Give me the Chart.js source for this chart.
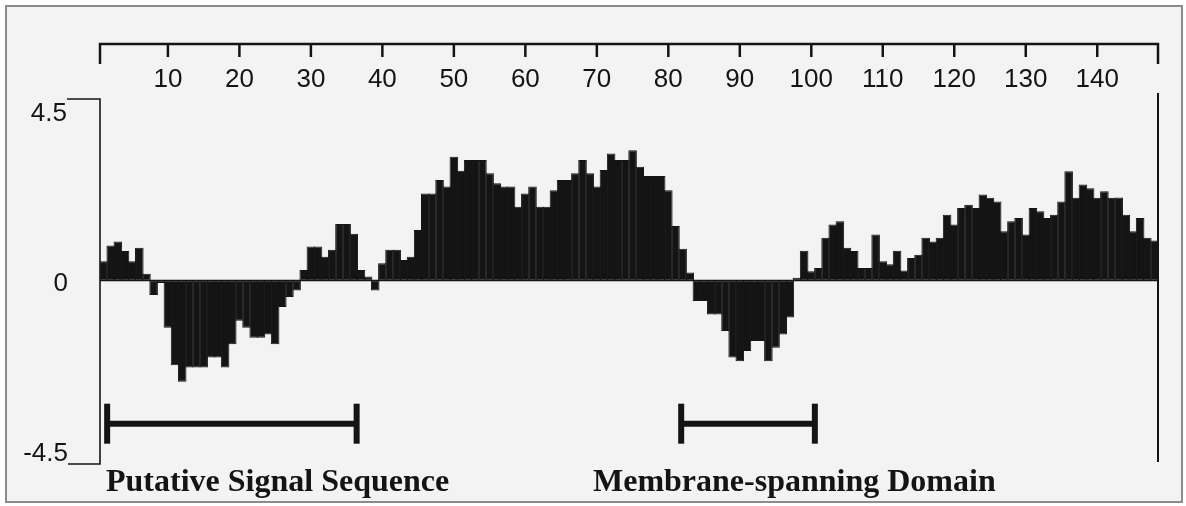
<!DOCTYPE html>
<html lang="en">
<head>
<meta charset="UTF-8" />
<title>Hydropathy plot</title>
<script src="https://cdn.jsdelivr.net/npm/chart.js"></script>
<style>
  html, body { margin: 0; padding: 0; background: #fff; overflow: hidden; }
  .frame {
    position: absolute; left: 5px; top: 5px;
    width: 1174px; height: 494px;
    border: 2px solid #8c8c8c;
    background: #f3f3f3;
  }
  canvas { position: absolute; left: 0; top: 0; }
</style>
</head>
<body>
<div class="frame"></div>
<canvas id="plot" width="1186" height="506"></canvas>
<script>
  // hydropathy value per residue (residue n = index + 1)
  const hydropathy = [
    0.48, 0.87, 0.97, 0.73, 0.48, 0.81, 0.17, -0.36, -0.06, -1.17,
    -2.10, -2.51, -2.16, -2.16, -2.16, -1.91, -1.91, -2.16, -1.58, -1.00,
    -1.17, -1.42, -1.42, -1.34, -1.58, -0.66, -0.41, -0.25, 0.26, 0.84,
    0.84, 0.59, 0.76, 1.40, 1.40, 1.16, 0.26, 0.10, -0.25, 0.43,
    0.76, 0.76, 0.51, 0.59, 1.25, 2.16, 2.16, 2.49, 2.33, 3.07,
    2.72, 2.99, 2.99, 2.99, 2.66, 2.41, 2.33, 2.33, 1.83, 2.16,
    2.33, 1.83, 1.83, 2.24, 2.49, 2.49, 2.66, 2.99, 2.66, 2.33,
    2.74, 3.15, 2.99, 2.99, 3.23, 2.82, 2.59, 2.59, 2.59, 2.24,
    1.35, 0.79, 0.20, -0.51, -0.51, -0.84, -0.84, -1.25, -1.91, -2.00,
    -1.75, -1.50, -1.50, -2.00, -1.67, -1.34, -0.92, 0.07, 0.74, 0.23,
    0.31, 1.06, 1.39, 1.47, 0.81, 0.73, 0.31, 0.31, 1.14, 0.48,
    0.40, 0.74, 0.25, 0.56, 0.64, 1.06, 0.97, 1.06, 1.63, 1.39,
    1.80, 1.88, 1.80, 2.13, 2.05, 1.96, 1.22, 1.47, 1.55, 1.14,
    1.80, 1.72, 1.55, 1.63, 1.96, 2.71, 2.05, 2.38, 2.29, 2.05,
    2.21, 2.05, 2.06, 1.63, 1.22, 1.55, 1.06, 0.99
  ];
  const residues = hydropathy.map((v, i) => i + 1);

  const rulerTicks = [10, 20, 30, 40, 50, 60, 70, 80, 90, 100, 110, 120, 130, 140];
  const yTicks = [4.5, 0, -4.5];
  const yTickLabels = ['4.5', '0', '-4.5'];

  const domainNames = ['Putative Signal Sequence', 'Membrane-spanning Domain'];
  const domainStart = [1.5, 81.8];
  const domainEnd = [36.4, 100.5];
  const domainLevel = -3.55;

  const ink = '#141414';

  // ruler, bracket axis and captions, drawn like the printed figure
  const paperAxes = {
    id: 'paperAxes',
    afterDatasetsDraw(chart) {
      const { ctx, chartArea: a, scales: { x, y } } = chart;
      const seg = (x1, y1, x2, y2) => { ctx.beginPath(); ctx.moveTo(x1, y1); ctx.lineTo(x2, y2); ctx.stroke(); };
      ctx.save();
      ctx.strokeStyle = ink;
      ctx.fillStyle = ink;

      // zero line
      const y0 = y.getPixelForValue(0);
      ctx.lineWidth = 1.5;
      seg(a.left, y0, a.right, y0);

      // left bracket axis
      const yTop = y.getPixelForValue(4.5), yBot = y.getPixelForValue(-4.5);
      ctx.lineWidth = 1.6;
      ctx.beginPath();
      ctx.moveTo(67, yTop); ctx.lineTo(a.left, yTop);
      ctx.lineTo(a.left, yBot + 2); ctx.lineTo(68, yBot + 2);
      ctx.stroke();

      // right edge line
      ctx.lineWidth = 2;
      seg(a.right, a.top - 6, a.right, a.bottom);

      // top ruler
      const rulerY = 44;
      ctx.lineWidth = 2.5;
      ctx.beginPath();
      ctx.moveTo(a.left, 64); ctx.lineTo(a.left, rulerY);
      ctx.lineTo(a.right, rulerY); ctx.lineTo(a.right, 64);
      ctx.stroke();
      ctx.font = '26px "Liberation Sans", Arial, sans-serif';
      ctx.textAlign = 'center';
      ctx.textBaseline = 'middle';
      rulerTicks.forEach(t => {
        const px = x.getPixelForValue(t);
        seg(px, rulerY, px, 57);
        ctx.fillText(String(t), px, 80);
      });

      // y labels
      const labelRight = [67, 68, 68];
      const labelShift = [15, 3, -8];
      ctx.textAlign = 'right';
      yTicks.forEach((v, i) => {
        ctx.fillText(yTickLabels[i], labelRight[i], y.getPixelForValue(v) + labelShift[i]);
      });

      // domain captions
      const captionLeft = [106, 593];
      ctx.font = 'bold 32px "Liberation Serif", "Times New Roman", serif';
      ctx.textAlign = 'left';
      ctx.textBaseline = 'alphabetic';
      domainNames.forEach((name, i) => ctx.fillText(name, captionLeft[i], 491));
      ctx.restore();
    }
  };

  const domainSets = domainNames.map((name, i) => ({
    type: 'line',
    label: name,
    data: [{ x: domainStart[i], y: domainLevel }, { x: domainEnd[i], y: domainLevel }],
    borderColor: ink,
    borderWidth: 6,
    pointStyle: 'line',
    pointRotation: 90,
    pointRadius: 20,
    pointBorderWidth: 6,
    pointBorderColor: ink,
    pointBackgroundColor: ink
  }));

  new Chart(document.getElementById('plot'), {
    type: 'bar',
    data: {
      datasets: [{
        label: 'Hydropathy',
        data: residues.map((r, i) => ({ x: r, y: hydropathy[i] })),
        backgroundColor: ink,
        borderColor: ink,
        borderWidth: 1,
        borderSkipped: false,
        barPercentage: 1.2,
        categoryPercentage: 1
      }, ...domainSets]
    },
    options: {
      responsive: false,
      animation: false,
      layout: { padding: { left: 100, right: 28, top: 99, bottom: 44 } },
      plugins: { legend: { display: false }, tooltip: { enabled: false } },
      scales: {
        x: { type: 'linear', min: 0.5, max: 148.5, offset: false, display: false },
        y: { min: -4.5, max: 4.5, display: false }
      }
    },
    plugins: [paperAxes]
  });
</script>
</body>
</html>
